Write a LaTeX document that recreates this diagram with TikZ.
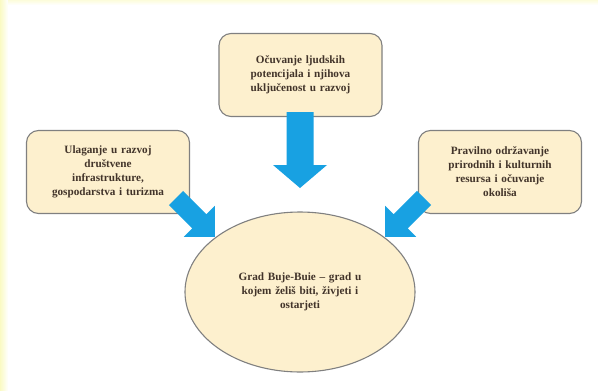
\documentclass[tikz,border=0pt]{standalone}
\usepackage{fontspec}
\setmainfont{Liberation Serif}
\usetikzlibrary{shapes.geometric}
\definecolor{boxfill}{RGB}{253,240,206}
\definecolor{boxline}{RGB}{128,128,128}
\definecolor{arrowblue}{RGB}{24,161,226}
\definecolor{txt}{RGB}{66,52,42}
\definecolor{edgey}{RGB}{250,250,195}
\begin{document}
\begin{tikzpicture}[x=1pt,y=-1pt,
  txtstyle/.style={font=\bfseries\fontsize{11.2}{14}\selectfont, text=txt, align=center},
  box/.style={txtstyle, draw=boxline, line width=1.1pt, fill=boxfill, rounded corners=12pt,
    minimum width=163pt, minimum height=83pt, text width=150pt, inner sep=0pt},
  city/.style={txtstyle, ellipse, draw=boxline, line width=1.1pt, fill=boxfill,
    minimum width=230pt, minimum height=160pt, text width=150pt, inner sep=0pt},
  blockarrow/.style={fill=arrowblue, draw=none}
]
\useasboundingbox (0,0) rectangle (598,391);
\fill[white] (0,0) rectangle (598,391);
\shade[left color=edgey, right color=white] (0,0) rectangle (8,391);
\shade[top color=edgey!60, bottom color=white] (8,0) rectangle (598,5);

\node[box] (top) at (300.5,75) {Očuvanje ljudskih\\ potencijala i njihova\\ uključenost u razvoj};
\node[box] (left) at (108,172) {Ulaganje u razvoj\\ društvene\\ infrastrukture,\\ gospodarstva i turizma};
\node[box] (right) at (500,172) {Pravilno održavanje\\ prirodnih i kulturnih\\ resursa i očuvanje\\ okoliša};
\node[city] (city) at (300,292) {Grad Buje-Buie – grad u\\ kojem želiš biti, živjeti i\\ ostarjeti};

% top arrow
\coordinate (ta) at (300,112);
\begin{scope}[shift={(ta)}, rotate=-90]
  \fill[blockarrow] (0,-13.5) -- (53,-13.5) -- (53,-27) -- (76,0) -- (53,27) -- (53,13.5) -- (0,13.5) -- cycle;
\end{scope}
% left arrow
\coordinate (la) at (176,198);
\begin{scope}[shift={(la)}, rotate=-45]
  \fill[blockarrow] (0,-10) -- (33,-10) -- (33,-22) -- (55,0) -- (33,22) -- (33,10) -- (0,10) -- cycle;
\end{scope}
% right arrow
\coordinate (ra) at (424,198);
\begin{scope}[shift={(ra)}, rotate=-135]
  \fill[blockarrow] (0,-10) -- (33,-10) -- (33,-22) -- (55,0) -- (33,22) -- (33,10) -- (0,10) -- cycle;
\end{scope}
\end{tikzpicture}
\end{document}
